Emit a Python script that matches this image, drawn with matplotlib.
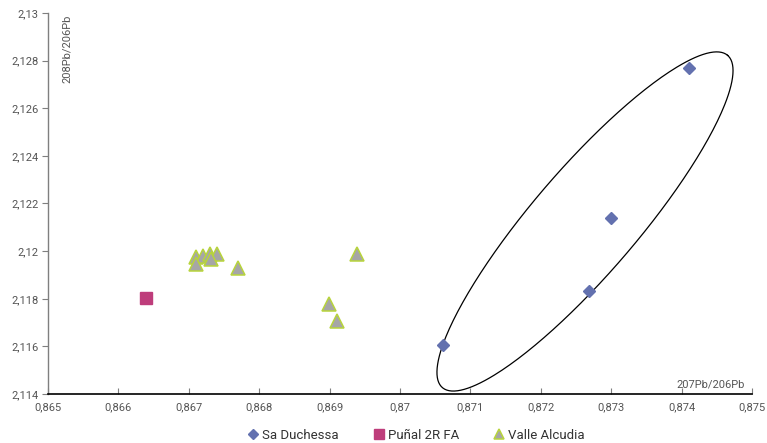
import matplotlib.pyplot as plt
import matplotlib.ticker as mticker
import numpy as np

# Sa Duchessa
duch_x = [0.87410, 0.87300, 0.87269, 0.87061]
duch_y = [2.12769, 2.12139, 2.11833, 2.11606]

# Puñal 2R FA
punal_x = [0.86639]
punal_y = [2.11803]

# Valle Alcudia
valle_x = [0.86710, 0.86720, 0.86730, 0.86740, 0.86710, 0.86732, 0.86770, 0.86939, 0.86899, 0.86910]
valle_y = [2.11975, 2.11978, 2.11988, 2.11988, 2.11946, 2.11967, 2.11929, 2.11988, 2.11778, 2.11707]

text_col = '#555555'
plt.rcParams['font.family'] = ['Roboto', 'DejaVu Sans']

fig = plt.figure(figsize=(7.67, 4.43), dpi=100)
ax = fig.add_axes([0.0626, 0.1106, 0.9178, 0.8601])

ax.plot(duch_x, duch_y, 'D', color='#6371AF', markersize=6.5, linestyle='none',
        label='Sa Duchessa', zorder=3)
ax.plot(punal_x, punal_y, 's', color='#BE3D7B', markersize=8.5, linestyle='none',
        label='Puñal 2R FA', zorder=3)
ax.plot(valle_x, valle_y, '^', color='#A6A6A6', markeredgecolor='#B8D43C',
        markeredgewidth=1.1, markersize=9.5, linestyle='none',
        label='Valle Alcudia', zorder=3)

# ellipse around the Sa Duchessa group
t = np.linspace(0, 2 * np.pi, 300)
cx, cy = 0.872628, 2.121245
ax_major = (0.002026, 0.006976)
ax_minor = (-0.000564, 0.001432)
ex = cx + np.cos(t) * ax_major[0] + np.sin(t) * ax_minor[0]
ey = cy + np.cos(t) * ax_major[1] + np.sin(t) * ax_minor[1]
ax.plot(ex, ey, color='black', linewidth=0.9, zorder=2)

ax.set_xlim(0.865, 0.875)
ax.set_ylim(2.114, 2.130)
ax.xaxis.set_major_locator(mticker.MultipleLocator(0.001))
ax.yaxis.set_major_locator(mticker.MultipleLocator(0.002))


def comma_fmt(v, pos):
    s = ('%.3f' % v).rstrip('0').rstrip('.')
    return s.replace('.', ',')


ax.xaxis.set_major_formatter(mticker.FuncFormatter(comma_fmt))
ax.yaxis.set_major_formatter(mticker.FuncFormatter(comma_fmt))

for side in ['top', 'right']:
    ax.spines[side].set_visible(False)
ax.spines['bottom'].set_color('black')
ax.spines['bottom'].set_linewidth(1.2)
ax.spines['left'].set_color('#7f7f7f')
ax.spines['left'].set_linewidth(1.0)

ax.tick_params(axis='x', direction='in', length=4, color='#7f7f7f',
               labelsize=8, labelcolor=text_col, pad=6)
ax.tick_params(axis='y', direction='out', length=4, color='#7f7f7f',
               labelsize=8, labelcolor=text_col, pad=3)

ax.text(0.99, 0.012, '207Pb/206Pb', transform=ax.transAxes, ha='right', va='bottom',
        fontsize=8, color=text_col)
ax.text(0.02, 0.995, '208Pb/206Pb', transform=ax.transAxes, ha='left', va='top',
        rotation=90, fontsize=8, color=text_col)

ax.legend(loc='upper center', bbox_to_anchor=(0.523, -0.06), ncol=3, frameon=False,
          fontsize=9.5, labelcolor='#333333', handlelength=0.8, handletextpad=0.3,
          columnspacing=2.6, markerscale=0.8)

fig.savefig('out.png', dpi=100)
